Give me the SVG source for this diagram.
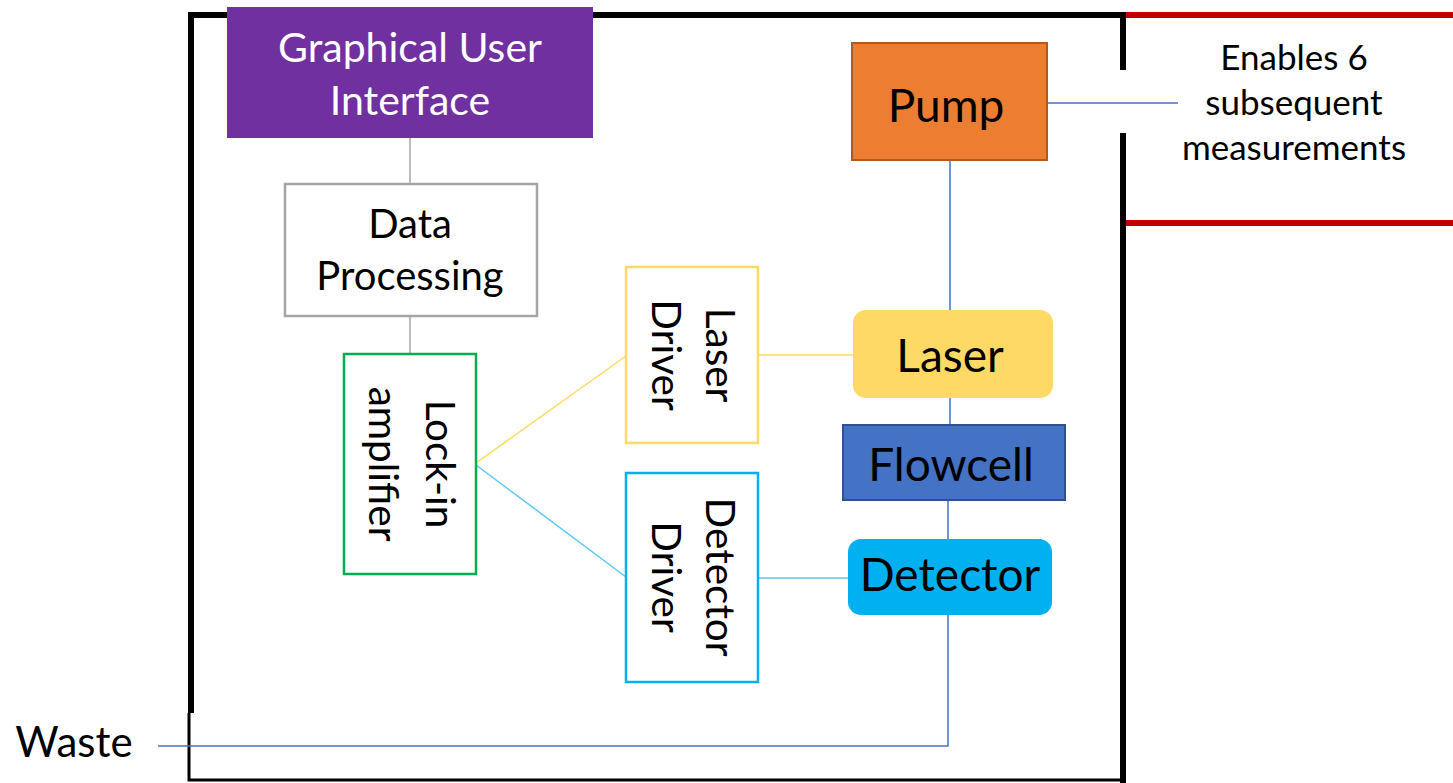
<svg xmlns="http://www.w3.org/2000/svg" width="1453" height="783" viewBox="0 0 1453 783">
<style>
text{font-family:Lato,"Liberation Sans",sans-serif;text-anchor:middle;dominant-baseline:central;fill:#000}
.w{fill:#fff}
.c{fill:none;stroke-width:1.5}
.r{font-size:40.5px}
.b{font-size:46px}
</style>
<rect width="1453" height="783" fill="#fff"/>
<g id="frame" fill="none" stroke="#000">
<path d="M191,713 V15 H1123 V70" stroke-width="6"/>
<path d="M1123,133 V783" stroke-width="6"/>
<path d="M189,713 V780 H1123" stroke-width="3"/>
</g>
<g id="bracket" stroke="#C00000" stroke-width="6">
<line x1="1126" y1="15" x2="1453" y2="15"/>
<line x1="1126" y1="223" x2="1453" y2="223"/>
</g>
<g id="connectors">
<line class="c" x1="410" y1="138" x2="410" y2="183" stroke="#A5A5A5"/>
<line class="c" x1="410" y1="316" x2="410" y2="354" stroke="#A5A5A5"/>
<line class="c" x1="476" y1="463" x2="626" y2="356" stroke="#FFD966"/>
<line class="c" x1="476" y1="465" x2="626" y2="577" stroke="#5BC8F5"/>
<line class="c" x1="758" y1="355" x2="853" y2="355" stroke="#FFD966"/>
<line class="c" x1="758" y1="578" x2="849" y2="578" stroke="#5BC8F5"/>
<line class="c" x1="1047" y1="103" x2="1178" y2="103" stroke="#4472C4"/>
<line class="c" x1="950" y1="160" x2="950" y2="310" stroke="#4472C4"/>
<line class="c" x1="950" y1="398" x2="950" y2="425" stroke="#4472C4"/>
<line class="c" x1="948" y1="500" x2="948" y2="539" stroke="#4472C4"/>
<polyline class="c" points="948,615 948,746 158,746" stroke="#4472C4"/>
</g>
<g id="gui">
<rect x="227" y="7" width="366" height="131" fill="#7030A0"/>
<text class="w" x="410" y="46" font-size="41">Graphical User</text>
<text class="w" x="410" y="99" font-size="41">Interface</text>
</g>
<g id="dataproc">
<rect x="285" y="184" width="252" height="132" fill="#fff" stroke="#A5A5A5" stroke-width="2.5"/>
<text x="410" y="223" font-size="40">Data</text>
<text x="410" y="275" font-size="40">Processing</text>
</g>
<g id="lockin">
<rect x="344" y="354" width="132" height="220" fill="#fff" stroke="#00B050" stroke-width="2.5"/>
<g transform="translate(413,464) rotate(90)">
<text class="r" x="0" y="-28">Lock-in</text>
<text class="r" x="0" y="29">amplifier</text>
</g>
</g>
<g id="laserdriver">
<rect x="626" y="267" width="132" height="176" fill="#fff" stroke="#FFD966" stroke-width="2.5"/>
<g transform="translate(694,355) rotate(90)">
<text class="r" x="0" y="-27">Laser</text>
<text class="r" x="0" y="27">Driver</text>
</g>
</g>
<g id="detectordriver">
<rect x="626" y="473" width="132" height="209" fill="#fff" stroke="#00B0F0" stroke-width="2.5"/>
<g transform="translate(694,577) rotate(90)">
<text class="r" x="0" y="-27">Detector</text>
<text class="r" x="0" y="27">Driver</text>
</g>
</g>
<g id="pump">
<rect x="852" y="43" width="195" height="117" fill="#ED7D31" stroke="#AE5A21" stroke-width="2"/>
<text class="b" x="946" y="104">Pump</text>
</g>
<g id="laser">
<rect x="853" y="310" width="200" height="88" rx="13" fill="#FFD966"/>
<text class="b" x="950" y="354">Laser</text>
</g>
<g id="flowcell">
<rect x="843" y="425" width="222" height="75" fill="#4472C4" stroke="#2F528F" stroke-width="2"/>
<text class="b" x="951" y="463">Flowcell</text>
</g>
<g id="detector">
<rect x="848" y="539" width="204" height="76" rx="13" fill="#00B0F0"/>
<text class="b" x="950" y="573">Detector</text>
</g>
<g id="note">
<text x="1294" y="56" font-size="35">Enables 6</text>
<text x="1294" y="101" font-size="35">subsequent</text>
<text x="1294" y="146" font-size="35">measurements</text>
</g>
<g id="waste">
<text x="74" y="741" font-size="42">Waste</text>
</g>
</svg>
